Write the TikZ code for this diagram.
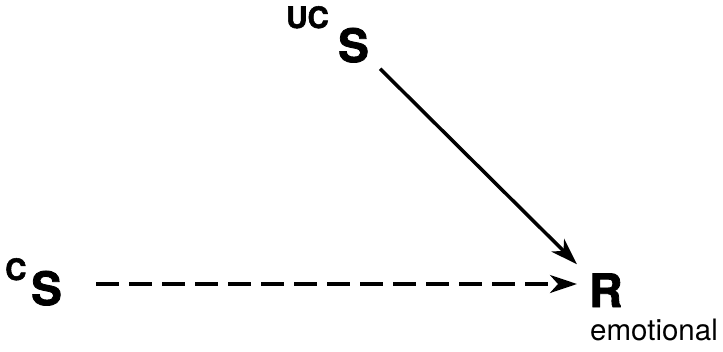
\documentclass[tikz,border=0pt]{standalone}
\usepackage{fontspec}
\setmainfont{TeX Gyre Heros}[BoldFeatures={FakeBold=1.8}]
\usetikzlibrary{arrows.meta,calc}
\begin{document}
\begin{tikzpicture}[x=1pt,y=-1pt,
  big/.style={font=\fontsize{46}{46}\selectfont\bfseries, inner sep=0pt, anchor=base west},
  suplabel/.style={font=\fontsize{29.5}{30}\selectfont\bfseries, inner sep=0pt, anchor=base west},
  small/.style={font=\fontsize{29.5}{30}\selectfont, inner sep=0pt, anchor=base west},
  link/.style={line width=3.5pt, -{Stealth[length=27pt,width=18pt,inset=8pt]}},
]
\useasboundingbox (0,0) rectangle (723,351);
\node[suplabel] (ucl) at (286,28) {UC};
\node[big] (ucs) at (338,62) {S};
\node[suplabel] (cl) at (5,280) {C};
\node[big] (cs) at (31,305) {S};
\node[big] (r) at (589,307) {R};
\node[small] (emo) at (590,340) {emotional};
\draw[link] ($(ucs.south east)+(11,6)$) -- ($(r.north west)+(-12,-9)$);
\draw[link, dash pattern=on 23pt off 10pt] ($(cs.base east)+(34,-21)$) -- ($(r.base west)+(-12,-23)$);
\end{tikzpicture}
\end{document}
